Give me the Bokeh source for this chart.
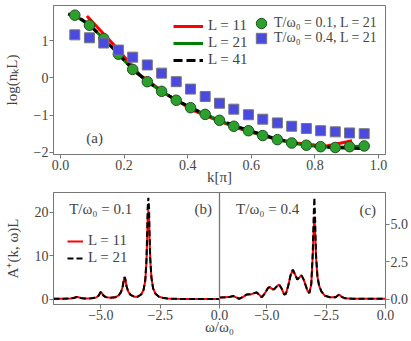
from bokeh.plotting import figure
from bokeh.layouts import column
from bokeh.models import (Range1d, FixedTicker, LinearAxis, Legend, LegendItem,
                          Label, Span)
from bokeh.embed import file_html
from bokeh.resources import INLINE

# ---------------- data: panel (a) ----------------
k_L11 = [0.083, 0.167, 0.25, 0.333, 0.417, 0.5, 0.583, 0.667, 0.75, 0.833, 0.917]
logn_L11 = [1.67, 0.90, 0.08, -0.44, -0.87, -1.17, -1.42, -1.62, -1.76, -1.84, -1.69]

k_L21 = [0.045, 0.091, 0.136, 0.182, 0.227, 0.273, 0.318, 0.364, 0.409, 0.455, 0.5,
         0.545, 0.591, 0.636, 0.682, 0.727, 0.773, 0.818, 0.864, 0.909, 0.955]
logn_L21 = [1.69, 1.42, 1.06, 0.64, 0.23, -0.10, -0.36, -0.60, -0.80, -0.98, -1.14,
            -1.30, -1.42, -1.55, -1.66, -1.75, -1.81, -1.85, -1.87, -1.85, -1.83]

k_L41 = [0.024, 0.048, 0.071, 0.095, 0.119, 0.143, 0.167, 0.19, 0.238, 0.286, 0.333,
         0.381, 0.429, 0.476, 0.524, 0.571, 0.619, 0.667, 0.714, 0.762, 0.81, 0.857,
         0.905, 0.944]
logn_L41 = [1.72, 1.66, 1.55, 1.40, 1.20, 0.98, 0.79, 0.57, 0.15, -0.17, -0.44,
            -0.67, -0.88, -1.05, -1.21, -1.35, -1.48, -1.61, -1.71, -1.79, -1.84, -1.87,
            -1.89, -1.90]

logn_T01 = logn_L21
logn_T04 = [1.16, 1.08, 0.94, 0.75, 0.56, 0.35, 0.13, -0.10, -0.30, -0.50, -0.68,
            -0.84, -0.99, -1.11, -1.21, -1.30, -1.36, -1.42, -1.45, -1.48, -1.50]

# ---------------- data: panel (b), T/w0 = 0.1 ----------------
w_b = [-7.0, -6.6, -6.3, -6.15, -6.05, -6.0, -5.95, -5.85, -5.7, -5.4, -5.2, -5.1,
       -5.03, -5.0, -4.97, -4.9, -4.8, -4.6, -4.4, -4.25, -4.15, -4.08, -4.03, -4.0,
       -3.97, -3.92, -3.85, -3.75, -3.6, -3.45, -3.3, -3.2, -3.13, -3.08, -3.05, -3.03,
       -3.0, -2.97, -2.95, -2.92, -2.87, -2.8, -2.7, -2.55, -2.4, -2.2, -2.0, -1.5,
       -1.0, -0.5, 0.0]
A_b_L21 = [0.1, 0.12, 0.18, 0.3, 0.48, 0.55, 0.48, 0.3, 0.18, 0.22, 0.4, 0.8,
           1.5, 1.75, 1.5, 0.9, 0.5, 0.35, 0.45, 0.9, 1.7, 3.0, 4.6, 5.1,
           4.6, 3.0, 1.8, 1.0, 0.6, 0.6, 1.1, 2.2, 4.5, 9.0, 15.5, 21.0,
           23.4, 21.0, 15.5, 9.5, 5.0, 2.5, 1.3, 0.6, 0.35, 0.2, 0.12, 0.08,
           0.06, 0.06, 0.06]
A_b_L11 = [0.1, 0.12, 0.18, 0.3, 0.48, 0.55, 0.48, 0.3, 0.18, 0.22, 0.4, 0.8,
           1.5, 1.75, 1.5, 0.9, 0.5, 0.35, 0.45, 0.9, 1.7, 3.0, 4.6, 5.1,
           4.6, 3.0, 1.8, 1.0, 0.6, 0.6, 1.1, 2.2, 4.3, 8.5, 14.0, 18.5,
           20.5, 18.5, 14.0, 9.0, 5.0, 2.5, 1.3, 0.6, 0.35, 0.2, 0.12, 0.08,
           0.06, 0.06, 0.06]

# ---------------- data: panel (c), T/w0 = 0.4 ----------------
w_c = [-7.0, -6.75, -6.55, -6.41, -6.3, -6.17, -6.0, -5.86, -5.65, -5.44, -5.3,
       -5.22, -5.1, -4.95, -4.89, -4.75, -4.69, -4.55, -4.48, -4.38, -4.27, -4.2,
       -4.1, -4.0, -3.91, -3.8, -3.72, -3.6, -3.54, -3.45, -3.3, -3.21, -3.13, -3.07,
       -3.03, -3.0, -2.97, -2.93, -2.87, -2.8, -2.7, -2.55, -2.35, -2.1, -1.96, -1.85,
       -1.72, -1.4, -1.0, 0.0]
A_c_L21 = [0.1, 0.12, 0.16, 0.2, 0.12, 0.02, 0.15, 0.3, 0.33, 0.45, 0.25,
           0.12, 0.35, 0.75, 0.8, 0.65, 0.66, 0.9, 0.96, 0.7, 0.3, 0.35,
           0.9, 1.6, 1.95, 1.6, 1.3, 1.5, 1.58, 1.3, 0.6, 0.4, 1.0, 3.0,
           5.5, 6.77, 5.5, 3.0, 1.5, 0.9, 0.5, 0.22, 0.12, 0.12, 0.3, 0.15,
           0.06, 0.03, 0.02, 0.02]
A_c_L11 = [0.1, 0.12, 0.16, 0.2, 0.12, 0.02, 0.15, 0.3, 0.33, 0.45, 0.25,
           0.12, 0.35, 0.75, 0.8, 0.65, 0.66, 0.9, 0.96, 0.7, 0.3, 0.35,
           0.9, 1.6, 1.95, 1.6, 1.3, 1.5, 1.58, 1.3, 0.6, 0.4, 1.0, 2.8,
           4.6, 5.5, 4.6, 2.8, 1.5, 0.9, 0.5, 0.22, 0.12, 0.12, 0.3, 0.15,
           0.06, 0.03, 0.02, 0.02]

# tick labels
ka_ticks = [0.0, 0.2, 0.4, 0.6, 0.8, 1.0]
ka_labels = ["0.0", "0.2", "0.4", "0.6", "0.8", "1.0"]
ya_ticks = [-2, -1, 0, 1]
ya_labels = ["\u22122", "\u22121", "0", "1"]
w_ticks = [-5, -2.5, 0]
w_labels = ["\u22125.0", "\u22122.5", "0.0"]
yb_ticks = [0, 10, 20]
yb_labels = ["0", "10", "20"]
yc_ticks = [0, 2.5, 5]
yc_labels = ["0.0", "2.5", "5.0"]

FONT = "Liberation Serif"
TXT = "#444444"
SPINE = "#777777"
FS = "14px"
FS_L = "15px"


def style_axis(ax):
    ax.axis_line_color = SPINE
    ax.major_tick_line_color = SPINE
    ax.major_tick_out = 4
    ax.major_tick_in = 0
    ax.minor_tick_line_color = None
    ax.major_label_text_font = FONT
    ax.major_label_text_font_size = FS
    ax.major_label_text_color = TXT
    ax.major_label_standoff = 1
    ax.axis_label_text_font = FONT
    ax.axis_label_text_font_size = FS_L
    ax.axis_label_text_font_style = "normal"
    ax.axis_label_text_color = TXT
    ax.axis_label_standoff = 11


def txt(**kw):
    return Label(text_font=FONT, text_color=TXT, text_baseline="middle", **kw)


def legend(items, loc, gw, gh, lh, standoff, size):
    return Legend(items=items, location=loc, glyph_width=gw, glyph_height=gh,
                  label_height=lh, spacing=0, padding=0, margin=0,
                  label_standoff=standoff, border_line_color=None,
                  background_fill_alpha=0, label_text_font=FONT,
                  label_text_font_size=size, label_text_color=TXT)


# ---------------- top figure ----------------
p = figure(width=411, height=192, x_range=Range1d(-0.022, 1.022),
           y_range=Range1d(-2.06, 1.95), output_backend="svg",
           toolbar_location=None, min_border_left=52, min_border_right=24,
           min_border_top=5, min_border_bottom=38)
p.grid.visible = False
p.outline_line_color = SPINE
p.xaxis.ticker = FixedTicker(ticks=ka_ticks)
p.xaxis.major_label_overrides = dict(zip(ka_ticks, ka_labels))
p.yaxis.ticker = FixedTicker(ticks=ya_ticks)
p.yaxis.major_label_overrides = dict(zip(ya_ticks, ya_labels))
p.xaxis.axis_label = "k[\u03c0]"
p.yaxis.axis_label = "log(n\u2096L)"
style_axis(p.xaxis[0])
style_axis(p.yaxis[0])
p.xaxis.axis_label_standoff = -4

r11 = p.line(k_L11, logn_L11, line_color="#ff0000", line_width=3)
r21 = p.line(k_L21, logn_L21, line_color="#008000", line_width=3)
r41 = p.line(k_L41, logn_L41, line_color="black", line_width=3, line_dash="9 4")
c01 = p.scatter(k_L21, logn_T01, marker="circle", size=10.5, fill_color="#2ca02c",
                line_color="#1f4f1f", line_width=1)
s04 = p.scatter(k_L21, logn_T04, marker="square", size=10, fill_color="#4a4ae0",
                line_color="#777777", line_width=1)

p.add_layout(legend([LegendItem(label="L = 11", renderers=[r11]),
                     LegendItem(label="L = 21", renderers=[r21]),
                     LegendItem(label="L = 41", renderers=[r41])],
                    (120, 86), 30, 14, 14, 5, FS_L))
p.add_layout(legend([LegendItem(label="T/\u03c9\u2080 = 0.1, L = 21", renderers=[c01])],
                    (195, 117), 26, 28, 14, -4, FS))
p.add_layout(legend([LegendItem(label="T/\u03c9\u2080 = 0.4, L = 21", renderers=[s04])],
                    (195, 102), 26, 28, 14, -4, FS))
p.add_layout(txt(x=0.081, y=-1.61, text="(a)", text_font_size=FS_L))

# ---------------- bottom figure: panels (b) and (c) ----------------
q = figure(width=411, height=149, x_range=Range1d(-7, 7), y_range=Range1d(-1.2, 24.6),
           output_backend="svg", toolbar_location=None, min_border_left=51,
           min_border_right=24, min_border_top=0, min_border_bottom=37)
q.extra_x_ranges = {"c": Range1d(-14, 0)}
q.extra_y_ranges = {"c": Range1d(-0.36, 7.1)}
q.grid.visible = False
q.outline_line_color = SPINE

# bottom axis: left half = panel (b) range, right half = panel (c) range (shifted by 7)
bt = w_ticks + [t + 7 for t in w_ticks]
q.xaxis.ticker = FixedTicker(ticks=bt)
q.xaxis.major_label_overrides = dict(zip(bt, w_labels + w_labels))
q.xaxis.axis_label = "\u03c9/\u03c9\u2080"
q.yaxis.ticker = FixedTicker(ticks=yb_ticks)
q.yaxis.major_label_overrides = dict(zip(yb_ticks, yb_labels))
q.yaxis.axis_label = "A\u207a(k, \u03c9)L"
style_axis(q.xaxis[0])
style_axis(q.yaxis[0])
q.xaxis.axis_label_standoff = -4

yc_axis = LinearAxis(y_range_name="c", ticker=FixedTicker(ticks=yc_ticks))
yc_axis.major_label_overrides = dict(zip(yc_ticks, yc_labels))
style_axis(yc_axis)
q.add_layout(yc_axis, "right")

q.add_layout(Span(location=0, dimension="height", line_color=SPINE, line_width=1.3))

rb11 = q.line(w_b, A_b_L11, line_color="#ff0000", line_width=2)
rb21 = q.line(w_b, A_b_L21, line_color="black", line_width=2, line_dash="6 3")
q.line(w_c, A_c_L11, line_color="#ff0000", line_width=2,
       x_range_name="c", y_range_name="c")
q.line(w_c, A_c_L21, line_color="black", line_width=2, line_dash="6 3",
       x_range_name="c", y_range_name="c")

q.add_layout(legend([LegendItem(label="L = 11", renderers=[rb11]),
                     LegendItem(label="L = 21", renderers=[rb21])],
                    (14, 38), 16, 16, 16, 5, FS_L))

q.add_layout(txt(x=-6.34, y=20.9, text="T/\u03c9\u2080 = 0.1", text_font_size=FS_L))
q.add_layout(txt(x=-1.05, y=20.9, text="(b)", text_font_size=FS_L))
q.add_layout(txt(x=-6.30, y=6.0, x_range_name="c", y_range_name="c",
                 text="T/\u03c9\u2080 = 0.4", text_font_size=FS_L))
q.add_layout(txt(x=-1.10, y=5.93, x_range_name="c", y_range_name="c",
                 text="(c)", text_font_size=FS_L))

layout = column(p, q, spacing=0)
open("out.html", "w").write(file_html(layout, INLINE))
